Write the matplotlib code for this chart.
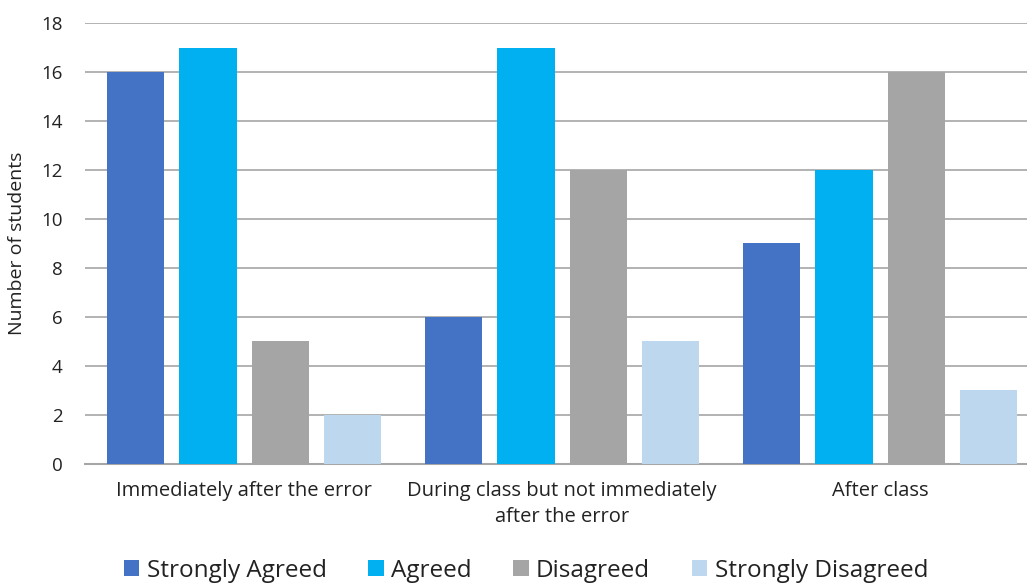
import matplotlib
matplotlib.use("Agg")
import matplotlib.pyplot as plt
import numpy as np
from matplotlib.patches import Patch

categories = ["Immediately after the error",
              "During class but not immediately\nafter the error",
              "After class"]
series_names = ["Strongly Agreed", "Agreed", "Disagreed", "Strongly Disagreed"]
strongly_agreed = [16, 6, 9]
agreed = [17, 17, 12]
disagreed = [5, 12, 16]
strongly_disagreed = [2, 5, 3]
colors = ["#4472C4", "#00B0F0", "#A5A5A5", "#BDD7EE"]

plt.rcParams['font.family'] = ['Open Sans', 'DejaVu Sans']

fig = plt.figure(figsize=(10.27, 5.84), dpi=100)
ax = fig.add_axes([0.0828, 0.2055, 0.929, 0.7551])

x = np.arange(len(categories))
step = 0.227
width = 0.18
data = [strongly_agreed, agreed, disagreed, strongly_disagreed]
for i, (vals, c) in enumerate(zip(data, colors)):
    ax.bar(x + (i - 1.5) * step, vals, width, color=c, zorder=3)

ax.set_xlim(-0.5, 2.5)
ax.set_ylim(0, 18)
ax.set_yticks(range(0, 19, 2))
ax.yaxis.grid(True, color="#A6A6A6", linewidth=1.2, zorder=0)
ax.set_axisbelow(True)
for s in ["top", "right", "left"]:
    ax.spines[s].set_visible(False)
ax.spines["bottom"].set_color("#A6A6A6")
ax.spines["bottom"].set_linewidth(1.5)
ax.tick_params(axis="both", length=0, labelsize=13.5, colors="#222222")
ax.tick_params(axis="y", pad=16)
ax.tick_params(axis="x", pad=12)
ax.set_xticks(x)
ax.set_xticklabels(categories, fontsize=14.5, linespacing=1.4)
ax.set_ylabel("Number of students", fontsize=14, color="#222222", labelpad=11)

handles = [Patch(facecolor=c, label=n) for c, n in zip(colors, series_names)]
fig.legend(handles=handles, loc="lower center", bbox_to_anchor=(0.512, -0.035), ncol=4,
           frameon=False, fontsize=17.5, handlelength=0.65, handleheight=0.65,
           handletextpad=0.3, columnspacing=1.7, labelcolor="#222222")

fig.savefig("out.png", dpi=100)
